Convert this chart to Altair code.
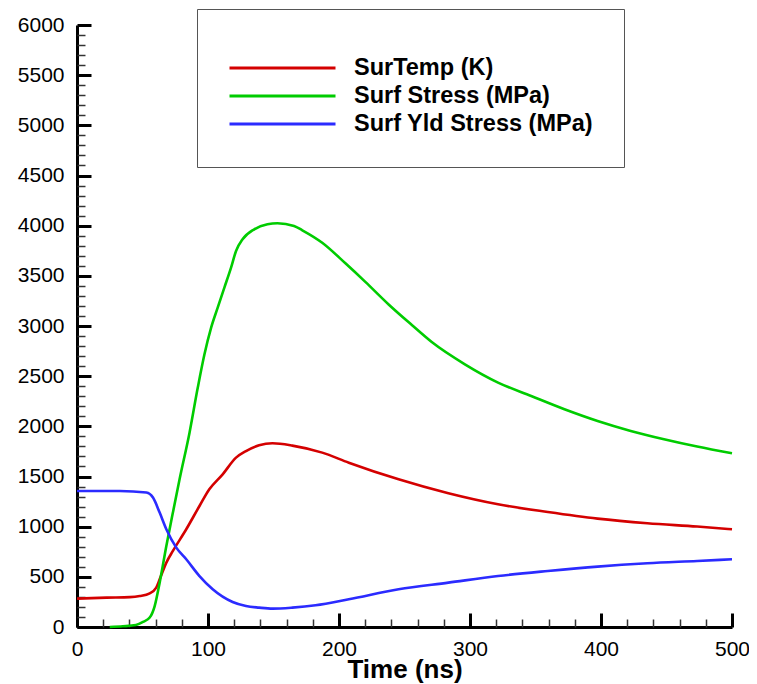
import altair as alt
import pandas as pd

# ---- data ----
series_names = ["SurTemp (K)", "Surf Stress (MPa)", "Surf Yld Stress (MPa)"]
series_colors = ["#d40000", "#00cc00", "#2b2bff"]

temp_t = [0, 22.6, 40.3, 47.9, 55.5, 60.5, 63.1, 68.2, 73.2, 83.4, 93.5, 101, 111.2,
          121.4, 129, 139, 149.2, 164.4, 187.2, 207.5, 245.5, 283.5, 321.4, 359.4,
          397.4, 435.4, 473.4, 500]
temp_v = [283, 293, 298, 309, 336, 393, 475, 642, 758, 974, 1206, 1372, 1522,
          1688, 1754, 1811, 1831, 1808, 1738, 1638, 1472, 1333, 1223, 1146,
          1080, 1034, 1001, 974]

stress_t = [25, 35, 45, 50.4, 55.5, 59.3, 63.1, 68.2, 73.2, 78.3, 85.9, 92.2, 97.3,
            102.4, 107.4, 112.5, 117.6, 121.4, 126.4, 135.3, 145.4, 153, 165.7, 172,
            187.2, 204.9, 220.1, 237.9, 255.6, 270.8, 296.1, 321.4, 346.7, 372.1,
            397.4, 422.7, 448.1, 473.4, 500]
stress_v = [0, 7, 20, 50, 94, 209, 442, 807, 1140, 1472, 1937, 2386, 2718,
            2984, 3183, 3383, 3582, 3748, 3864, 3964, 4014, 4024, 3997, 3954,
            3830, 3625, 3440, 3215, 3010, 2840, 2618, 2436, 2302, 2170,
            2053, 1954, 1871, 1798, 1731]

yld_t = [0, 32.7, 53, 58, 63.1, 68.2, 75.8, 83.4, 93.5, 103.6, 118.8, 129, 139,
         149.2, 164.4, 182.1, 207.5, 245.5, 283.5, 321.4, 359.4, 397.4, 435.4,
         473.4, 500]
yld_v = [1356, 1356, 1340, 1290, 1140, 974, 791, 675, 508, 376, 249, 209, 193,
         183, 193, 216, 276, 376, 442, 508, 558, 602, 635, 658, 675]

x_major = [0, 100, 200, 300, 400, 500]
x_minor = [v for v in range(0, 501, 20) if v % 100 != 0]
y_major = list(range(0, 6001, 500))
y_minor = [v for v in range(0, 6001, 100) if v % 500 != 0]

rows = []
for name, ts, vs in zip(series_names, [temp_t, stress_t, yld_t], [temp_v, stress_v, yld_v]):
    for t, v in zip(ts, vs):
        rows.append({"t": t, "value": v, "series": name})
df = pd.DataFrame(rows)

W, H = 655, 602
FONT = "Liberation Sans"

xscale = alt.Scale(domain=[0, 500], nice=False, zero=False)
yscale = alt.Scale(domain=[0, 6000], nice=False, zero=False)

lines = alt.Chart(df).mark_line(strokeWidth=2.6, interpolate="monotone").encode(
    x=alt.X("t:Q", scale=xscale, axis=alt.Axis(
        orient="bottom", values=x_major, format="d", ticks=False, tickSize=0, grid=False,
        labelFlush=False, domainColor="black", domainWidth=3, labelFont=FONT,
        labelFontSize=21, labelColor="black", labelPadding=11, title="Time (ns)",
        titleFont=FONT, titleFontSize=26, titleFontWeight="bold", titleColor="black",
        titlePadding=-3)),
    y=alt.Y("value:Q", scale=yscale, axis=alt.Axis(
        orient="left", values=y_major, format="d", ticks=False, tickSize=0, grid=False,
        labelFlush=False, domainColor="black", domainWidth=3, labelFont=FONT,
        labelFontSize=21, labelColor="black", labelPadding=13, title=None)),
    color=alt.Color("series:N", scale=alt.Scale(domain=series_names, range=series_colors),
                    legend=alt.Legend(
                        orient="none", legendX=120, legendY=-16,
                        title=" ", titleFontSize=14, titlePadding=5,
                        padding=31, fillColor="white", strokeColor="#555",
                        symbolType="stroke", symbolSize=106 * 106, symbolStrokeWidth=3,
                        labelFont=FONT, labelFontSize=23.5, labelFontWeight="bold",
                        labelColor="black", labelOffset=17, labelLimit=500,
                        clipHeight=18, rowPadding=4)),
    detail="series:N",
)


def tick_layer(xvals, yvals, size, width, color):
    return alt.Chart(df).mark_point(opacity=0).encode(
        x=alt.X("t:Q", scale=xscale, axis=alt.Axis(
            orient="top", offset=-H, values=xvals, labels=False, domain=False,
            grid=False, title=None, tickSize=size, tickWidth=width, tickColor=color)),
        y=alt.Y("value:Q", scale=yscale, axis=alt.Axis(
            orient="right", offset=-W, values=yvals, labels=False, domain=False,
            grid=False, title=None, tickSize=size, tickWidth=width, tickColor=color)),
    )


major = tick_layer(x_major, y_major, 14, 3, "black")
minor = tick_layer(x_minor, y_minor, 8, 1.5, "#333333")

chart = alt.layer(lines, major, minor).resolve_axis(
    x="independent", y="independent"
).properties(
    width=W, height=H,
    autosize=alt.AutoSizeParams(type="none"),
    padding={"left": 69, "top": 17, "right": 17, "bottom": 57},
    background="white",
).configure_view(strokeWidth=0)

chart.save("out.html", embed_options={"renderer": "svg", "actions": False})
